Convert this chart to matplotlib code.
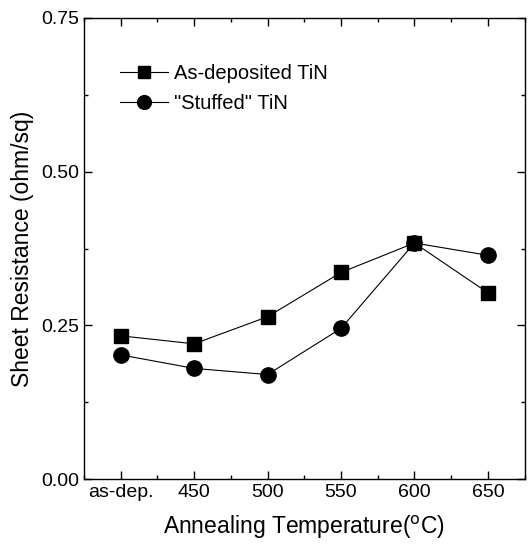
import matplotlib.pyplot as plt
from matplotlib.ticker import MultipleLocator

plt.rcParams['font.family'] = ['Liberation Sans', 'DejaVu Sans']

temps = ['as-dep.', '450', '500', '550', '600', '650']
as_deposited = [0.233, 0.220, 0.264, 0.336, 0.384, 0.303]
stuffed = [0.202, 0.180, 0.170, 0.245, 0.384, 0.364]

fig = plt.figure(figsize=(5.31, 5.45), dpi=100)
ax = fig.add_axes([0.158, 0.121, 0.83, 0.846])

x = list(range(len(temps)))
ax.plot(x, as_deposited, color='black', lw=0.8, marker='s', ms=10,
        label='As-deposited TiN')
ax.plot(x, stuffed, color='black', lw=0.8, marker='o', ms=11,
        label='"Stuffed" TiN')

ax.set_xlim(-0.5, 5.5)
ax.set_ylim(0, 0.75)
ax.set_xticks(x)
ax.set_xticklabels(temps)
ax.xaxis.set_minor_locator(MultipleLocator(0.5))
ax.set_yticks([0, 0.25, 0.5, 0.75])
ax.set_yticklabels(['0.00', '0.25', '0.50', '0.75'])
ax.yaxis.set_minor_locator(MultipleLocator(0.125))
ax.tick_params(which='both', direction='in', top=True, right=True,
               labelsize=14, width=1)
ax.tick_params(which='major', length=6)
ax.tick_params(which='minor', length=3)
for s in ax.spines.values():
    s.set_linewidth(1)

ax.set_xlabel('Annealing Temperature($^{\\mathrm{o}}$C)', fontsize=16.5, labelpad=9)
ax.set_ylabel('Sheet Resistance (ohm/sq)', fontsize=16.5, labelpad=5)

ax.legend(loc='upper left', bbox_to_anchor=(0.04, 0.94), frameon=False,
          fontsize=14.5, handlelength=2.4, handletextpad=0.3, labelspacing=0.55,
          markerscale=0.9)

fig.savefig('out.png', dpi=100)
